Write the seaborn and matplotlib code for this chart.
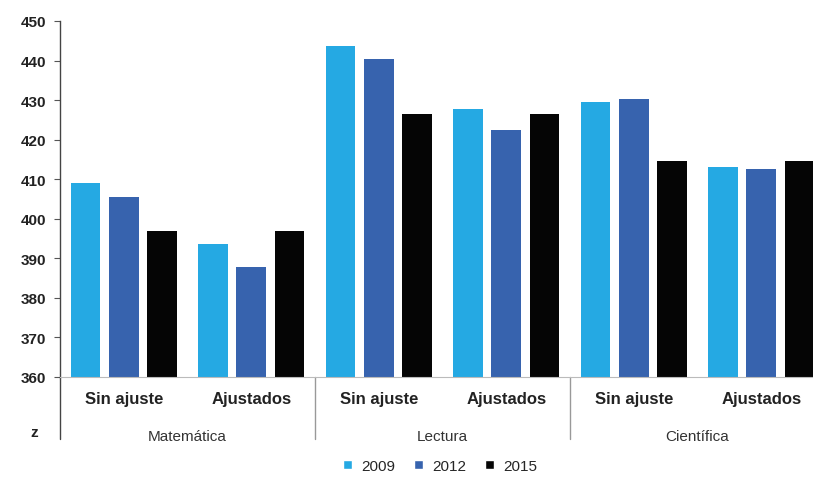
import matplotlib
matplotlib.use("Agg")
import matplotlib.pyplot as plt
import seaborn as sns
import pandas as pd
from matplotlib.patches import Patch

# Scores by subject and adjustment, for each assessment year
areas = ["Matemática", "Lectura", "Científica"]
ajustes = ["Sin ajuste", "Ajustados"]
years = ["2009", "2012", "2015"]
scores_2009 = [409.0, 393.6, 443.7, 427.7, 429.5, 413.1]
scores_2012 = [405.5, 387.8, 440.4, 422.4, 430.3, 412.6]
scores_2015 = [396.9, 396.9, 426.5, 426.5, 414.6, 414.6]
yticks = [360, 370, 380, 390, 400, 410, 420, 430, 440, 450]

groups = [f"{a}|{j}" for a in areas for j in ajustes]
rows = []
for yr, vals in zip(years, [scores_2009, scores_2012, scores_2015]):
    for g, v in zip(groups, vals):
        rows.append({"grupo": g, "año": yr, "puntaje": v})
df = pd.DataFrame(rows)

colors = {"2009": "#25a9e3", "2012": "#3763ae", "2015": "#050505"}

sns.set_style("white")
plt.rcParams["font.family"] = ["Liberation Sans", "DejaVu Sans"]

fig = plt.figure(figsize=(8.13, 4.81), dpi=100)
ax = fig.add_axes([60 / 813, 1 - 378 / 481, 765 / 813, (378 - 22) / 481])

sns.barplot(data=df, x="grupo", y="puntaje", hue="año", order=groups,
            hue_order=years, palette=colors, saturation=1, width=0.9, gap=0.22,
            ax=ax, legend=False, edgecolor="none")

ax.set_ylim(360, 450)
ax.set_xlim(-0.5, len(groups) - 0.5)
ax.set_yticks(yticks)
ax.set_yticklabels([str(t) for t in yticks], fontsize=11, fontweight="bold",
                   color="#222222")
ax.tick_params(axis="y", length=4, width=0.8, color="#555555", pad=6, left=True)
ax.set_xticks([])
ax.set_xlabel("")
ax.set_ylabel("")

for s in ["top", "right"]:
    ax.spines[s].set_visible(False)
ax.spines["left"].set_color("#444444")
ax.spines["left"].set_linewidth(1.0)
ax.spines["left"].set_bounds(360, 450)
ax.spines["bottom"].set_color("#bbbbbb")
ax.spines["bottom"].set_linewidth(0.8)

trans = ax.get_xaxis_transform()
# Lower-level labels (adjustment)
for i, g in enumerate(groups):
    ax.text(i, -0.06, g.split("|")[1], transform=trans, ha="center", va="center",
            fontsize=12, fontweight="bold", color="#222222")
# Upper-level labels (subject)
for k, a in enumerate(areas):
    ax.text(2 * k + 0.5, -0.165, a, transform=trans, ha="center", va="center",
            fontsize=11, color="#333333")
# Left axis extension and subject separators
ax.plot([-0.5, -0.5], [0, -0.175], transform=trans, color="#444444",
        lw=1.0, clip_on=False)
for xs in [1.5, 3.5]:
    ax.plot([xs, xs], [0, -0.175], transform=trans, color="#999999",
            lw=1.0, clip_on=False)
ax.text(-0.7, -0.155, "z", transform=trans, ha="center", va="center",
        fontsize=11, fontweight="bold", color="#222222")

handles = [Patch(facecolor=colors[y], label=y) for y in years]
fig.legend(handles=handles, loc="center", bbox_to_anchor=(440 / 813, 1 - 467 / 481),
           ncol=3, frameon=False, fontsize=11, handlelength=0.6, handleheight=0.6,
           handletextpad=0.6, columnspacing=1.2)

fig.savefig("out.png", dpi=100)
